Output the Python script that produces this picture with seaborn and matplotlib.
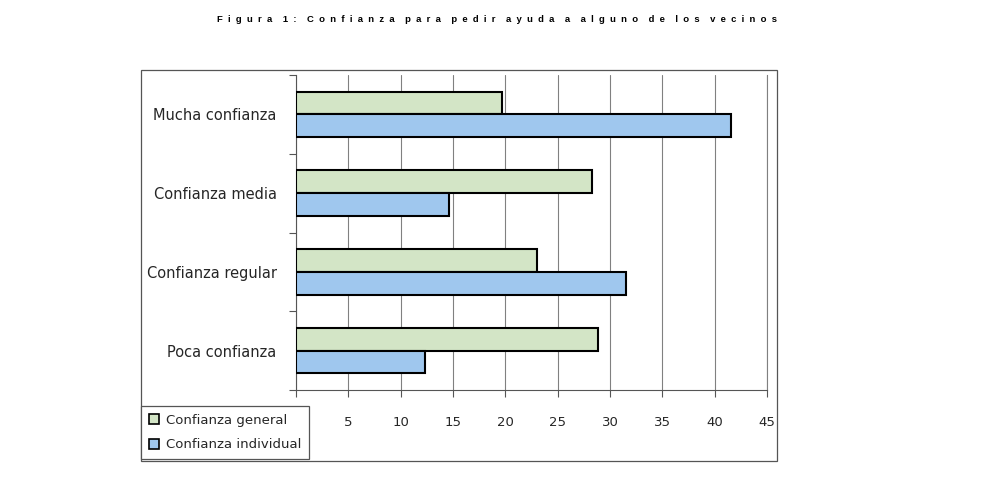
import pandas as pd
import numpy as np
import matplotlib.pyplot as plt
import seaborn as sns
from matplotlib.patches import Rectangle

# Data
categories = ['Mucha confianza', 'Confianza media', 'Confianza regular', 'Poca confianza']
series_names = ['Confianza general', 'Confianza individual']
general_vals = [19.7, 28.3, 23.0, 28.9]
individual_vals = [41.6, 14.6, 31.5, 12.3]
x_ticks = [0, 5, 10, 15, 20, 25, 30, 35, 40, 45]
# the 0 label sits under the legend in the reference
x_tick_labels = ['', '5', '10', '15', '20', '25', '30', '35', '40', '45']
title_text = 'Figura 1: Confianza para pedir ayuda a alguno de los vecinos'

colors = ['#d3e5c6', '#9fc7ee']

df = pd.DataFrame({
    'categoria': categories * 2,
    'serie': [series_names[0]] * 4 + [series_names[1]] * 4,
    'valor': general_vals + individual_vals,
})

sns.set_style('white')
plt.rcParams['font.family'] = ['DejaVu Sans']

fig = plt.figure(figsize=(10.04, 4.8), dpi=100)
ax = fig.add_axes([296 / 1004, 1 - 390 / 480, 471 / 1004, 315 / 480])

sns.barplot(data=df, y='categoria', x='valor', hue='serie', order=categories,
            hue_order=series_names, palette=colors, orient='h', width=0.58,
            edgecolor='black', linewidth=1.5, saturation=1, ax=ax, zorder=3)

ax.set_xlim(0, 45)
ax.set_ylim(3.5, -0.5)
ax.set_xticks(x_ticks)
ax.set_xticklabels(x_tick_labels, fontsize=9.5)
ax.tick_params(axis='x', length=5, width=0.8, color='#555555', direction='out',
               pad=14, bottom=True)
ax.set_yticks(range(len(categories)))
ax.set_yticklabels(categories, fontsize=10.5)
ax.tick_params(axis='y', length=0, pad=14)
ax.set_yticks(np.arange(-0.5, 4, 1), minor=True)
ax.tick_params(axis='y', which='minor', length=5, width=0.8, color='#555555',
               direction='out', left=True)
ax.set_xlabel('')
ax.set_ylabel('')
ax.grid(axis='x', color='#808080', linewidth=0.8, zorder=0)
ax.set_axisbelow(True)
ax.spines['top'].set_visible(False)
ax.spines['right'].set_color('#808080')
ax.spines['right'].set_linewidth(0.8)
for side in ['left', 'bottom']:
    ax.spines[side].set_color('#555555')
    ax.spines[side].set_linewidth(0.8)

# outer chart frame
fig.patches.append(Rectangle((141 / 1004, 1 - 461 / 480), 636 / 1004, 391 / 480,
                             transform=fig.transFigure, fill=False,
                             edgecolor='#555555', linewidth=0.9, zorder=0))

# legend at the bottom left of the frame
handles, labels = ax.get_legend_handles_labels()
ax.get_legend().remove()
leg = fig.legend(handles, labels, loc='upper left',
                 bbox_to_anchor=(141 / 1004, 1 - 406 / 480),
                 frameon=True, fancybox=False, fontsize=9.5,
                 handlelength=0.8, handleheight=0.8, handletextpad=0.5,
                 borderpad=0.6, labelspacing=0.85, borderaxespad=0)
leg.get_frame().set_edgecolor('#555555')
leg.get_frame().set_linewidth(0.9)
leg.get_frame().set_facecolor('white')
leg.get_frame().set_alpha(1)
for h in leg.legend_handles:
    h.set_edgecolor('black')
    h.set_linewidth(1.2)

# letter-spaced title
spaced = '    '.join('  '.join(w) for w in title_text.split(' '))
fig.text(497 / 1004, 1 - 20 / 480, spaced, ha='center', va='center',
         fontsize=6.8, fontweight='bold', family='Liberation Sans', color='black')

fig.savefig('out.png', dpi=100)
